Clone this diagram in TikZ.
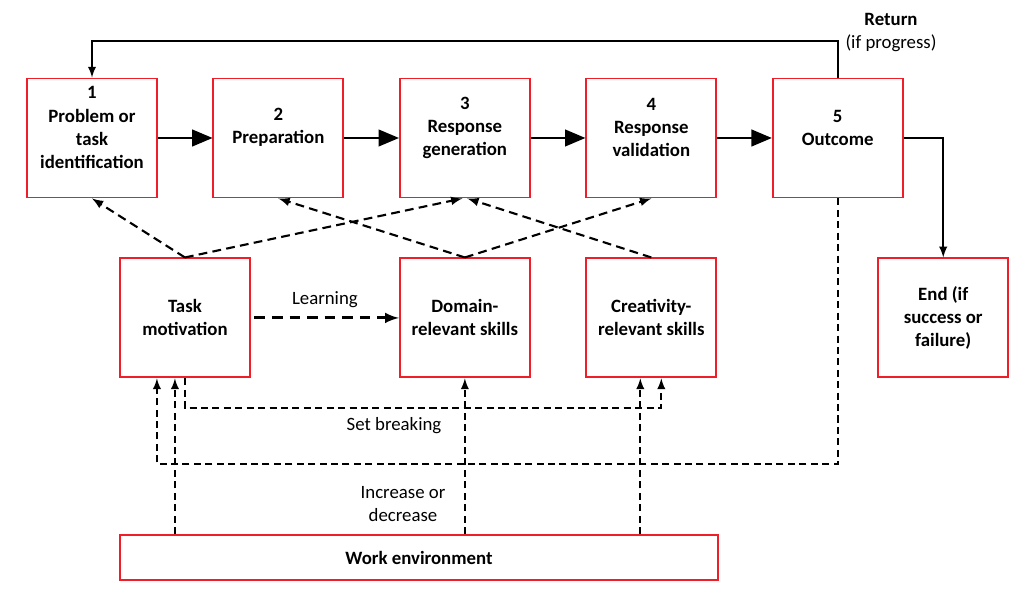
\documentclass[tikz,border=0pt]{standalone}
\usepackage{fontspec}
\setmainfont{Carlito}
\usetikzlibrary{arrows,positioning}
\definecolor{boxred}{RGB}{240,30,40}
\newcommand{\lblfont}{\fontsize{10.7}{13.1}\selectfont}
\newcommand{\boxfont}{\fontsize{10.7}{13.1}\selectfont\bfseries}
\tikzset{
  stage/.style = {draw=boxred, line width=1.1pt, inner sep=0pt, minimum width=2.6cm, minimum height=2.38cm},
  stagetext/.style = {align=center, inner sep=0pt, font=\boxfont, yshift=0.21cm},
  factor/.style = {stage, align=center, font=\boxfont},
  textlbl/.style = {align=center, inner sep=0pt, font=\lblfont},
  flowarr/.style = {-triangle 45, line width=1.7pt},
  backarr/.style = {-latex, line width=1.1pt},
  dasharr/.style = {-latex, line width=1.2pt, dash pattern=on 5pt off 3pt},
  learnarr/.style = {-latex, line width=1.7pt, dash pattern=on 6pt off 4pt, shorten <=2pt},
  fbarr/.style = {-latex, line width=1.1pt, dash pattern=on 4pt off 2.5pt},
}

\begin{document}
\begin{tikzpicture}[font=\lblfont]
  \useasboundingbox (0,0) rectangle (20.52,11.92);
  % stages of the process
  \node [stage, label={[stagetext]center:1\\Problem or\\task\\identification}] (b1) at (1.84,9.16) {};
  \node [stage, right=1.09cm of b1, label={[stagetext]center:2\\Preparation}] (b2) {};
  \node [stage, right=1.09cm of b2, label={[stagetext]center:3\\Response\\generation}] (b3) {};
  \node [stage, right=1.09cm of b3, label={[stagetext]center:4\\Response\\validation}] (b4) {};
  \node [stage, right=1.09cm of b4, label={[stagetext]center:5\\Outcome}] (b5) {};
  % components
  \node [factor, below=1.18cm of b3] (dom) {Domain-\\relevant skills};
  \node [factor, left=2.96cm of dom] (task) {Task\\motivation};
  \node [factor, below=1.18cm of b4] (crea) {Creativity-\\relevant skills};
  \node [factor, right=3.2cm of crea] (end) {End (if\\success or\\failure)};
  \node [factor, minimum width=11.96cm, minimum height=0.9cm] (work) at (8.38,0.77) {Work environment};

  \draw [flowarr] (b1) -- (b2);
  \draw [flowarr] (b2) -- (b3);
  \draw [flowarr] (b3) -- (b4);
  \draw [flowarr] (b4) -- (b5);

  % return loop and end
  \coordinate (rettop) at (0,11.1);
  \draw [backarr] (b5.north) -- (b5.north |- rettop) -| (b1.north);
  \node [textlbl] (ret) at (17.82,11.26) {\textbf{Return}\\(if progress)};
  \draw [backarr] (b5.east) -| (end.north);

  % influences on the stages
  \draw [dasharr] (task.north) -- (b1.south);
  \draw [dasharr] (task.north) -- ([xshift=-0.05cm]b3.south);
  \draw [dasharr] (dom.north) -- (b2.south);
  \draw [dasharr] (dom.north) -- (b4.south);
  \draw [dasharr] (crea.north) -- ([xshift=0.05cm]b3.south);
  \draw [learnarr] (task.east) -- node [textlbl, above=0.18cm] (lrn) {Learning} (dom.west);

  % feedback lanes
  \coordinate (sbl) at (0,3.76);
  \coordinate (fbl) at (0,2.64);
  \coordinate (tin) at ([xshift=-0.2cm]task.south);
  \coordinate (tfb) at ([xshift=-0.56cm]task.south);
  \coordinate (cin) at ([xshift=-0.22cm]crea.south);
  \coordinate (csb) at ([xshift=0.2cm]crea.south);
  \draw [fbarr] (work.north -| tin) -- (tin);
  \draw [fbarr] (work.north -| dom.south) -- (dom.south);
  \draw [fbarr] (work.north -| cin) -- (cin);
  \draw [fbarr] (task.south) -- (task.south |- sbl) -| (csb);
  \draw [fbarr] (b5.south) -- (b5.south |- fbl) -| (tfb);
  \node [textlbl] (setb) at (7.88,3.4) {Set breaking};
  \node [textlbl] (incr) at (8.06,1.84) {Increase or\\decrease};
\end{tikzpicture}
\end{document}
